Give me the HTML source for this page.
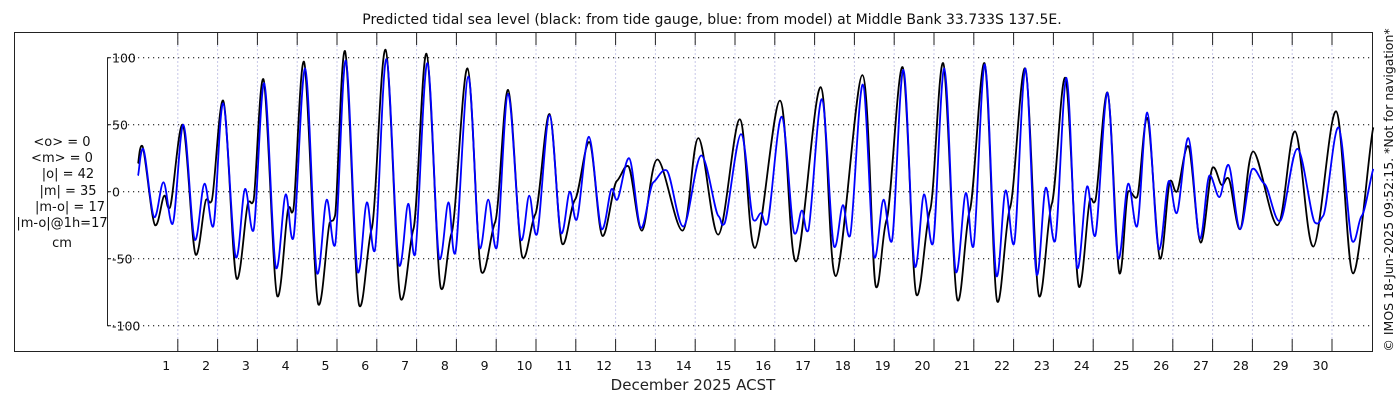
<!DOCTYPE html>
<html><head><meta charset="utf-8">
<style>
html,body{margin:0;padding:0;background:#fff;width:1400px;height:400px;overflow:hidden;font-family:"Liberation Sans","DejaVu Sans",sans-serif;}
svg text{font-family:"DejaVu Sans","Liberation Sans",sans-serif;}
</style></head>
<body>
<svg id="chart" width="1400" height="400" xmlns="http://www.w3.org/2000/svg">
<text x="712" y="24" font-size="14" text-anchor="middle" fill="#111">Predicted tidal sea level (black: from tide gauge, blue: from model) at Middle Bank 33.733S 137.5E.</text>
<rect x="14.5" y="32.5" width="1358" height="319" fill="none" stroke="#222" stroke-width="1"/>
<g id="grid"></g>
<g id="axes"></g>
<g id="series"></g>
<g font-size="13" fill="#111" text-anchor="middle">
<text x="62" y="146">&lt;o&gt; = 0</text>
<text x="62" y="162">&lt;m&gt; = 0</text>
<text x="68" y="178">|o| = 42</text>
<text x="68" y="195">|m| = 35</text>
<text x="70" y="211">|m-o| = 17</text>
<text x="62" y="227">|m-o|@1h=17</text>
<text x="62" y="247">cm</text>
</g>
<text x="693" y="390" font-size="15" text-anchor="middle" fill="#222">December 2025 ACST</text>
<text transform="translate(1393,190) rotate(-90)" font-size="12.5" text-anchor="middle" fill="#111">© IMOS 18-Jun-2025 09:52:15. *Not for navigation*</text>
</svg>
<script>
// black (tide gauge) turning points: time in days, value in cm
const obsT=[0,0.11,0.43,0.66,0.8,1.12,1.45,1.71,1.85,2.14,2.48,2.77,2.9,3.15,3.5,3.78,3.9,4.17,4.53,4.82,4.95,5.2,5.56,5.87,6.22,6.6,6.92,7.25,7.61,7.88,8.28,8.63,8.97,9.3,9.66,9.98,10.34,10.66,10.98,11.34,11.67,12.03,12.32,12.66,13.05,13.68,14.08,14.58,15.12,15.5,16.13,16.53,17.15,17.53,18.2,18.54,18.81,19.21,19.56,19.9,20.23,20.59,20.9,21.27,21.59,21.91,22.29,22.64,22.96,23.3,23.64,23.92,24.05,24.36,24.66,24.88,25.1,25.36,25.68,25.93,26.1,26.39,26.7,27,27.23,27.4,27.69,28.02,28.63,29.07,29.53,30.1,30.53,31.04];
const obsV=[21,34,-25,-3,-12,50,-47,-6,-7,68,-65,-8,-7,84,-78,-12,-14,97,-84,-23,-18,105,-85,-28,106,-80,-28,103,-72,-31,92,-60,-23,76,-49,-17,58,-39,-6,37,-33,8,19,-29,24,-29,40,-32,54,-42,68,-52,78,-63,87,-71,-21,93,-77,-14,96,-81,-14,96,-82,-12,92,-78,-9,85,-71,-6,-7,74,-61,0,-4,55,-50,8,0,34,-38,18,5,10,-28,30,-25,45,-41,60,-61,48];
// blue (model) turning points
const modT=[0,0.13,0.41,0.64,0.87,1.14,1.43,1.67,1.89,2.14,2.46,2.69,2.9,3.17,3.47,3.71,3.9,4.2,4.5,4.74,4.95,5.22,5.52,5.75,5.95,6.24,6.56,6.79,6.96,7.27,7.57,7.8,7.97,8.3,8.58,8.8,9.01,9.3,9.62,9.83,10.02,10.34,10.63,10.85,11.02,11.33,11.65,11.9,12.04,12.34,12.64,12.95,13.28,13.7,14.15,14.58,14.73,15.15,15.46,15.65,15.81,16.17,16.49,16.68,16.84,17.18,17.49,17.71,17.89,18.21,18.5,18.73,18.94,19.23,19.52,19.75,19.97,20.26,20.55,20.8,20.99,21.28,21.57,21.8,22.01,22.3,22.58,22.81,23.04,23.33,23.6,23.85,24.05,24.36,24.63,24.88,25.1,25.36,25.65,25.9,26.1,26.39,26.68,26.92,27.17,27.4,27.69,28,28.3,28.69,29.13,29.57,29.78,30.16,30.51,30.75,31.04];
const modV=[12,32,-19,7,-24,50,-36,6,-26,66,-49,2,-29,81,-57,-2,-35,92,-61,-6,-40,98,-60,-8,-44,99,-55,-9,-47,96,-50,-8,-46,86,-42,-6,-42,73,-36,-3,-32,57,-31,0,-21,41,-28,2,-6,25,-27,7,16,-26,27,-18,-24,43,-21,-16,-24,56,-31,-14,-29,69,-41,-10,-33,80,-49,-6,-37,91,-56,-2,-39,92,-60,-1,-41,95,-63,1,-39,92,-62,3,-37,85,-57,4,-33,74,-50,6,-26,59,-43,8,-16,40,-35,12,-4,20,-28,17,6,-22,32,-23,-18,48,-37,-18,17];
const yTicks=[-100,-50,0,50,100];
const dayLabels=[1,2,3,4,5,6,7,8,9,10,11,12,13,14,15,16,17,18,19,20,21,22,23,24,25,26,27,28,29,30];

const NS='http://www.w3.org/2000/svg';
const X0=138, DX=39.8, Y0=191.7, KY=1.34;
const xs=t=>X0+t*DX, ys=v=>Y0-v*KY;
function mk(tag,attrs,parent){const e=document.createElementNS(NS,tag);for(const k in attrs)e.setAttribute(k,attrs[k]);parent.appendChild(e);return e;}
const grid=document.getElementById('grid'), axes=document.getElementById('axes'), ser=document.getElementById('series');

yTicks.forEach(v=>{
  const l=mk('line',{x1:108,x2:1372,y1:ys(v),y2:ys(v),stroke:'#000','stroke-width':1,'stroke-dasharray':'1.2,3.8'},grid);
  
  
  const tk=mk('line',{x1:107,x2:111,y1:ys(v),y2:ys(v),stroke:'#222'},axes);
  
  
  const tx=mk('text',{x:112,y:ys(v)+5,'font-size':12.5,fill:'#111'},axes);
  tx.textContent=String(v);
  
  
});
const yl=mk('line',{x1:107.5,x2:107.5,y1:ys(100),y2:ys(-100),stroke:'#222'},axes);



for(let d=1; d<=30; d++){
  const x=xs(d);
  const g=mk('line',{x1:x,x2:x,y1:33,y2:351,stroke:'#c8c8e8','stroke-width':1,'stroke-dasharray':'2,2'},grid);
  
  
  const t1=mk('line',{x1:x,x2:x,y1:33,y2:45,stroke:'#222'},axes);
  
  
  const t2=mk('line',{x1:x,x2:x,y1:339,y2:351,stroke:'#222'},axes);
  
  
}
dayLabels.forEach((d,i)=>{
  const tx=mk('text',{x:xs(d-0.29),y:370,'font-size':12.5,'text-anchor':'middle',fill:'#111'},axes);
  tx.textContent=String(d);
  
  
});

function smoothPath(T,V){
  const P=T.map((t,i)=>[xs(t),ys(V[i])]);
  let d='M'+P[0][0].toFixed(1)+','+P[0][1].toFixed(1);
  for(let i=0;i<P.length-1;i++){
    const p0=P[i-1]||P[i], p1=P[i], p2=P[i+1], p3=P[i+2]||P[i+1];
    // monotone-ish: horizontal tangents at extrema
    const c1=[p1[0]+(p2[0]-p0[0])/6, p1[1]+(p2[1]-p0[1])/6*0.3];
    const c2=[p2[0]-(p3[0]-p1[0])/6, p2[1]-(p3[1]-p1[1])/6*0.3];
    d+=' C'+c1[0].toFixed(1)+','+c1[1].toFixed(1)+' '+c2[0].toFixed(1)+','+c2[1].toFixed(1)+' '+p2[0].toFixed(1)+','+p2[1].toFixed(1);
  }
  return d;
}
const pb=mk('path',{d:smoothPath(obsT,obsV),fill:'none',stroke:'#000','stroke-width':1.8},ser);


const pm=mk('path',{d:smoothPath(modT,modV),fill:'none',stroke:'#0000ff','stroke-width':1.8},ser);


</script>
</body></html>
